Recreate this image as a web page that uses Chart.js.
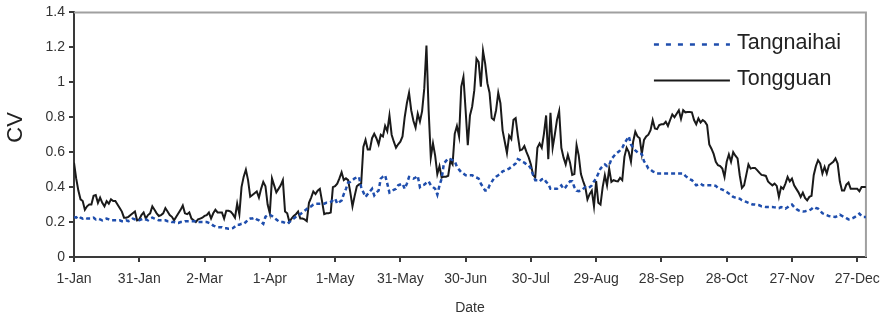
<!DOCTYPE html>
<html>
<head>
<meta charset="utf-8">
<title>CV - Tangnaihai / Tongguan</title>
<script src="https://cdn.jsdelivr.net/npm/chart.js@4.4.1/dist/chart.umd.min.js"></script>
<style>
  html, body { margin: 0; padding: 0; background: #fff; }
  #wrap { width: 889px; height: 323px; }
</style>
</head>
<body>
<div id="wrap"><canvas id="cvChart" width="889" height="323"></canvas></div>
<script>
// day of year (0 = 1-Jan ... 364 = 31-Dec)
const dayOfYear = Array.from({ length: 365 }, (_, i) => i);

const dateTickDays = [0, 30, 60, 90, 120, 150, 180, 210, 240, 270, 300, 330, 360];
const dateTickLabels = ['1-Jan', '31-Jan', '2-Mar', '1-Apr', '1-May', '31-May', '30-Jun',
    '30-Jul', '29-Aug', '28-Sep', '28-Oct', '27-Nov', '27-Dec'];
const cvTicks = [0, 0.2, 0.4, 0.6, 0.8, 1, 1.2, 1.4];

const tangnaihai = [
    0.23, 0.225, 0.235, 0.225, 0.22, 0.225, 0.22, 0.22, 0.22, 0.225,
    0.215, 0.22, 0.215, 0.21, 0.215, 0.22, 0.215, 0.21, 0.21, 0.21,
    0.21, 0.21, 0.205, 0.205, 0.21, 0.205, 0.21, 0.22, 0.215, 0.21,
    0.21, 0.215, 0.22, 0.215, 0.21, 0.22, 0.225, 0.22, 0.215, 0.21,
    0.21, 0.21, 0.21, 0.205, 0.205, 0.2, 0.2, 0.195, 0.195, 0.2,
    0.2, 0.205, 0.205, 0.205, 0.205, 0.205, 0.205, 0.2, 0.2, 0.2,
    0.2, 0.2, 0.195, 0.19, 0.18, 0.175, 0.17, 0.17, 0.17, 0.165,
    0.165, 0.162, 0.162, 0.165, 0.175, 0.185, 0.185, 0.19, 0.19, 0.2,
    0.215, 0.22, 0.22, 0.225, 0.215, 0.21, 0.2, 0.19, 0.23, 0.24,
    0.242, 0.235, 0.225, 0.215, 0.205, 0.2, 0.2, 0.195, 0.19, 0.2,
    0.21, 0.22, 0.23, 0.238, 0.245, 0.255, 0.265, 0.275, 0.285, 0.29,
    0.3, 0.305, 0.305, 0.305, 0.305, 0.305, 0.31, 0.31, 0.315, 0.325,
    0.334, 0.305, 0.315, 0.324, 0.36, 0.39, 0.426, 0.43, 0.44, 0.45,
    0.455, 0.458, 0.4, 0.37, 0.344, 0.36, 0.375, 0.39, 0.353, 0.37,
    0.38, 0.449, 0.46, 0.468, 0.42, 0.368, 0.375, 0.385, 0.39, 0.41,
    0.415, 0.42, 0.39, 0.42, 0.458, 0.455, 0.449, 0.455, 0.464, 0.4,
    0.41, 0.414, 0.425, 0.433, 0.41, 0.4, 0.39, 0.357, 0.41, 0.449,
    0.535, 0.55, 0.564, 0.56, 0.555, 0.548, 0.516, 0.5, 0.485, 0.478,
    0.468, 0.468, 0.468, 0.468, 0.46, 0.455, 0.449, 0.42, 0.4, 0.38,
    0.38, 0.41, 0.43, 0.449, 0.46, 0.468, 0.475, 0.49, 0.495, 0.5,
    0.506, 0.516, 0.525, 0.535, 0.56, 0.555, 0.545, 0.54, 0.53, 0.525,
    0.506, 0.47, 0.44, 0.44, 0.433, 0.445, 0.449, 0.43, 0.42, 0.39,
    0.39, 0.39, 0.39, 0.4, 0.41, 0.39, 0.4, 0.42, 0.433, 0.433,
    0.4, 0.38, 0.376, 0.38, 0.39, 0.4, 0.395, 0.4, 0.41, 0.433,
    0.45, 0.478, 0.506, 0.52, 0.53, 0.52, 0.525, 0.56, 0.575, 0.59,
    0.6, 0.61, 0.625, 0.65, 0.67, 0.69, 0.644, 0.625, 0.61, 0.6,
    0.59, 0.59, 0.548, 0.53, 0.506, 0.5, 0.49, 0.485, 0.478, 0.478,
    0.478, 0.478, 0.478, 0.478, 0.478, 0.478, 0.478, 0.478, 0.478, 0.478,
    0.478, 0.464, 0.455, 0.445, 0.44, 0.425, 0.41, 0.415, 0.42, 0.41,
    0.41, 0.41, 0.41, 0.41, 0.41, 0.407, 0.395, 0.39, 0.386, 0.38,
    0.372, 0.363, 0.355, 0.344, 0.34, 0.336, 0.334, 0.325, 0.32, 0.315,
    0.31, 0.305, 0.3, 0.3, 0.298, 0.296, 0.29, 0.288, 0.286, 0.286,
    0.286, 0.286, 0.284, 0.282, 0.28, 0.286, 0.282, 0.277, 0.285, 0.295,
    0.3, 0.286, 0.275, 0.267, 0.262, 0.26, 0.262, 0.265, 0.267, 0.275,
    0.286, 0.28, 0.277, 0.265, 0.25, 0.245, 0.24, 0.234, 0.232, 0.23,
    0.229, 0.235, 0.242, 0.235, 0.229, 0.222, 0.215, 0.218, 0.223, 0.23,
    0.238, 0.248, 0.235, 0.229, 0.229
];

const tongguan = [
    0.54, 0.45, 0.38, 0.33, 0.32, 0.27, 0.29, 0.3, 0.3, 0.35,
    0.355, 0.31, 0.34, 0.31, 0.29, 0.32, 0.305, 0.33, 0.32, 0.32,
    0.3, 0.28, 0.26, 0.225, 0.225, 0.23, 0.24, 0.25, 0.26, 0.21,
    0.215, 0.24, 0.255, 0.22, 0.24, 0.25, 0.29, 0.27, 0.25, 0.235,
    0.24, 0.25, 0.28, 0.26, 0.24, 0.23, 0.21, 0.23, 0.25, 0.27,
    0.295, 0.25, 0.245, 0.255, 0.22, 0.21, 0.2, 0.215, 0.22, 0.225,
    0.235, 0.24, 0.255, 0.22, 0.25, 0.27, 0.255, 0.255, 0.255, 0.22,
    0.265, 0.265, 0.26, 0.245, 0.225, 0.305, 0.245, 0.4, 0.46, 0.5,
    0.44, 0.345, 0.355, 0.365, 0.375, 0.34, 0.39, 0.43, 0.405, 0.3,
    0.25, 0.45, 0.41, 0.37, 0.39, 0.41, 0.44, 0.26, 0.25, 0.2,
    0.22, 0.235, 0.245, 0.26, 0.22, 0.22, 0.215, 0.205, 0.31, 0.34,
    0.375, 0.36, 0.38, 0.39, 0.32, 0.245, 0.25, 0.25, 0.255, 0.4,
    0.405, 0.42, 0.45, 0.485, 0.44, 0.45, 0.44, 0.37, 0.29, 0.35,
    0.405, 0.415, 0.42, 0.63, 0.67, 0.615, 0.615, 0.68, 0.705, 0.68,
    0.645, 0.7, 0.69, 0.75, 0.72, 0.81, 0.7, 0.66, 0.625, 0.645,
    0.66, 0.69, 0.8, 0.88, 0.94, 0.84, 0.78, 0.74, 0.82, 0.775,
    0.835, 0.965, 1.21, 0.84, 0.57, 0.65, 0.58, 0.475, 0.52, 0.455,
    0.46, 0.46, 0.465, 0.55, 0.53, 0.705, 0.75, 0.69, 0.975, 1.03,
    0.84, 0.64, 0.81, 0.86, 0.955, 1.135, 1.115, 0.975, 1.18, 1.105,
    0.995, 0.94, 0.795, 0.785, 0.84, 0.94, 0.88, 0.725, 0.66, 0.595,
    0.695, 0.675, 0.785, 0.795, 0.695, 0.61, 0.615, 0.635, 0.6, 0.57,
    0.53, 0.47, 0.455, 0.625, 0.65, 0.625, 0.705, 0.81, 0.56, 0.825,
    0.625, 0.7, 0.785, 0.835, 0.625, 0.57, 0.53, 0.585, 0.54, 0.47,
    0.475, 0.64, 0.58, 0.475, 0.435, 0.4, 0.33, 0.36, 0.38, 0.29,
    0.435, 0.31, 0.3, 0.4, 0.468, 0.41, 0.506, 0.43, 0.44, 0.435,
    0.433, 0.453, 0.44, 0.573, 0.625, 0.6, 0.545, 0.66, 0.717, 0.69,
    0.68, 0.59, 0.67, 0.69, 0.7, 0.726, 0.784, 0.736, 0.732, 0.755,
    0.76, 0.76, 0.774, 0.75, 0.784, 0.816, 0.8, 0.82, 0.84, 0.79,
    0.84, 0.828, 0.83, 0.83, 0.828, 0.784, 0.76, 0.793, 0.77, 0.784,
    0.774, 0.755, 0.644, 0.62, 0.59, 0.545, 0.525, 0.52, 0.506, 0.458,
    0.545, 0.587, 0.545, 0.6, 0.58, 0.564, 0.468, 0.395, 0.41, 0.47,
    0.53, 0.506, 0.51, 0.51, 0.497, 0.483, 0.47, 0.468, 0.464, 0.433,
    0.42, 0.41, 0.42, 0.407, 0.344, 0.4, 0.39, 0.42, 0.458, 0.433,
    0.449, 0.41, 0.39, 0.37, 0.344, 0.368, 0.338, 0.324, 0.344, 0.35,
    0.468, 0.52, 0.554, 0.535, 0.478, 0.516, 0.478, 0.525, 0.535, 0.545,
    0.564, 0.535, 0.433, 0.38, 0.38, 0.414, 0.426, 0.39, 0.39, 0.39,
    0.39, 0.376, 0.4, 0.4, 0.4
];

const FONT = "'Liberation Sans', Arial, sans-serif";
const AXIS_COLOR = '#3a3a3a';

// legend drawn inside the plot area, top right, like the original
const insideLegend = {
    id: 'insideLegend',
    afterDatasetsDraw(chart) {
        const { ctx, chartArea } = chart;
        const x0 = chartArea.right - 212;
        const lineLen = 76;
        chart.data.datasets.forEach((ds, i) => {
            const y = chartArea.top + 32 + i * 36;
            ctx.save();
            ctx.strokeStyle = ds.borderColor;
            ctx.lineWidth = ds.borderWidth;
            ctx.setLineDash(ds.legendDash || []);
            ctx.beginPath();
            ctx.moveTo(x0, y);
            ctx.lineTo(x0 + lineLen, y);
            ctx.stroke();
            ctx.setLineDash([]);
            ctx.fillStyle = '#222';
            ctx.font = '21.5px ' + FONT;
            ctx.textBaseline = 'alphabetic';
            ctx.fillText(ds.label, x0 + lineLen + 7, y + 5);
            ctx.restore();
        });
    }
};

// light grey frame on the top and right of the plot area,
// and the "CV" axis title placed where the original has it
const plotFrame = {
    id: 'plotFrame',
    beforeDatasetsDraw(chart) {
        const { ctx, chartArea } = chart;
        ctx.save();
        ctx.strokeStyle = '#a0a0a0';
        ctx.lineWidth = 2;
        ctx.beginPath();
        ctx.moveTo(chartArea.left, chartArea.top);
        ctx.lineTo(chartArea.right, chartArea.top);
        ctx.lineTo(chartArea.right, chartArea.bottom);
        ctx.stroke();

        ctx.translate(16, chartArea.top + 115);
        ctx.rotate(-Math.PI / 2);
        ctx.fillStyle = '#222';
        ctx.font = '22px ' + FONT;
        ctx.textAlign = 'center';
        ctx.textBaseline = 'middle';
        ctx.fillText('CV', 0, 0);
        ctx.restore();
    }
};

new Chart(document.getElementById('cvChart'), {
    type: 'line',
    data: {
        labels: dayOfYear,
        datasets: [{
            label: 'Tangnaihai',
            data: tangnaihai,
            borderColor: '#1f4ead',
            borderWidth: 2.5,
            borderDash: [4, 3],
            legendDash: [5, 7],
            pointRadius: 0,
            tension: 0
        }, {
            label: 'Tongguan',
            data: tongguan,
            borderColor: '#1a1a1a',
            borderWidth: 2,
            pointRadius: 0,
            tension: 0
        }]
    },
    options: {
        responsive: false,
        animation: false,
        devicePixelRatio: 1,
        layout: { padding: { top: 11, right: 19, left: 0, bottom: 0 } },
        plugins: {
            legend: { display: false },
            tooltip: { enabled: false }
        },
        scales: {
            x: {
                type: 'linear',
                min: 0,
                max: 364,
                afterBuildTicks: (scale) => {
                    scale.ticks = dateTickDays.map(v => ({ value: v }));
                },
                afterFit: (scale) => { scale.height = 66; },
                ticks: {
                    autoSkip: false,
                    maxRotation: 0,
                    padding: 9,
                    color: '#333',
                    font: { family: FONT, size: 14 },
                    callback: (v) => dateTickLabels[dateTickDays.indexOf(v)]
                },
                grid: {
                    drawOnChartArea: false,
                    tickLength: 5,
                    color: AXIS_COLOR,
                    lineWidth: 2
                },
                border: { color: AXIS_COLOR, width: 2 },
                title: {
                    display: true,
                    text: 'Date',
                    color: '#333',
                    font: { family: FONT, size: 14 },
                    padding: { top: 0, bottom: 6 }
                }
            },
            y: {
                min: 0,
                max: 1.4,
                afterBuildTicks: (scale) => {
                    scale.ticks = cvTicks.map(v => ({ value: v }));
                },
                afterFit: (scale) => { scale.width = 74; },
                ticks: {
                    padding: 4,
                    color: '#333',
                    font: { family: FONT, size: 14 },
                    callback: (v) => String(Math.round(v * 10) / 10)
                },
                grid: {
                    drawOnChartArea: false,
                    tickLength: 5,
                    color: AXIS_COLOR,
                    lineWidth: 2
                },
                border: { color: AXIS_COLOR, width: 2 }
            }
        }
    },
    plugins: [plotFrame, insideLegend]
});
</script>
</body>
</html>
